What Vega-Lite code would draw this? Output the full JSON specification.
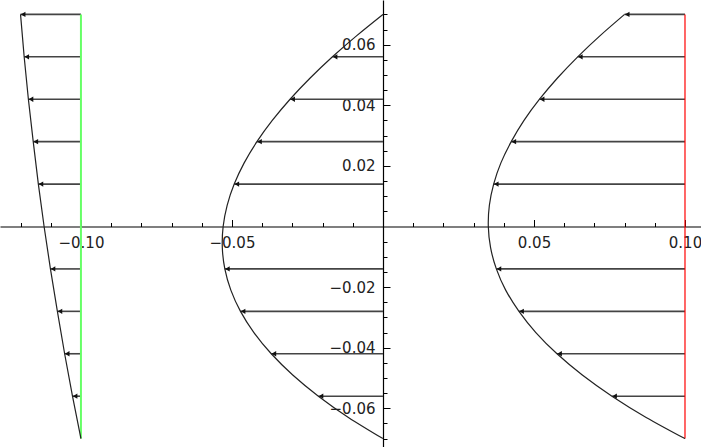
{
  "$schema": "https://vega.github.io/schema/vega-lite/v6.json",
  "width": 701,
  "height": 447,
  "autosize": "none",
  "padding": 0,
  "background": "white",
  "config": {
    "view": {"stroke": null},
    "axis": {"grid": false, "labelFont": "DejaVu Sans", "labelFontSize": 15, "labelColor": "#222", "tickColor": "#000", "domainColor": "#000", "labelFlush": false, "labelOverlap": false, "labelBound": false, "title": null}
  },
  "datasets": {
    "edges": [
      {"c": "green", "x": -0.1, "y1": -0.07, "y2": 0.07},
      {"c": "red", "x": 0.1, "y1": -0.07, "y2": 0.07}
    ],
    "curves": [
      {"c": "L", "y": 0.07, "x": -0.12},
      {"c": "L", "y": 0.056, "x": -0.1188},
      {"c": "L", "y": 0.042, "x": -0.1174},
      {"c": "L", "y": 0.028, "x": -0.1158},
      {"c": "L", "y": 0.014, "x": -0.1141},
      {"c": "L", "y": 0, "x": -0.1122},
      {"c": "L", "y": -0.014, "x": -0.1101},
      {"c": "L", "y": -0.028, "x": -0.1078},
      {"c": "L", "y": -0.042, "x": -0.1054},
      {"c": "L", "y": -0.056, "x": -0.1028},
      {"c": "L", "y": -0.07, "x": -0.1},
      {"c": "M", "y": 0.07, "x": 0},
      {"c": "M", "y": 0.063, "x": -0.00867},
      {"c": "M", "y": 0.056, "x": -0.01672},
      {"c": "M", "y": 0.049, "x": -0.0241},
      {"c": "M", "y": 0.042, "x": -0.03076},
      {"c": "M", "y": 0.035, "x": -0.03665},
      {"c": "M", "y": 0.028, "x": -0.04173},
      {"c": "M", "y": 0.021, "x": -0.04595},
      {"c": "M", "y": 0.014, "x": -0.04925},
      {"c": "M", "y": 0.007, "x": -0.05159},
      {"c": "M", "y": 0, "x": -0.05292},
      {"c": "M", "y": -0.007, "x": -0.05319},
      {"c": "M", "y": -0.014, "x": -0.05236},
      {"c": "M", "y": -0.021, "x": -0.05037},
      {"c": "M", "y": -0.028, "x": -0.04717},
      {"c": "M", "y": -0.035, "x": -0.04273},
      {"c": "M", "y": -0.042, "x": -0.03698},
      {"c": "M", "y": -0.049, "x": -0.02988},
      {"c": "M", "y": -0.056, "x": -0.02138},
      {"c": "M", "y": -0.063, "x": -0.01144},
      {"c": "M", "y": -0.07, "x": 0},
      {"c": "R", "y": 0.07, "x": 0.08},
      {"c": "R", "y": 0.063, "x": 0.07191},
      {"c": "R", "y": 0.056, "x": 0.06448},
      {"c": "R", "y": 0.049, "x": 0.05778},
      {"c": "R", "y": 0.042, "x": 0.05184},
      {"c": "R", "y": 0.035, "x": 0.0467},
      {"c": "R", "y": 0.028, "x": 0.04247},
      {"c": "R", "y": 0.021, "x": 0.03905},
      {"c": "R", "y": 0.014, "x": 0.03665},
      {"c": "R", "y": 0.007, "x": 0.03523},
      {"c": "R", "y": 0, "x": 0.03488},
      {"c": "R", "y": -0.007, "x": 0.03563},
      {"c": "R", "y": -0.014, "x": 0.03754},
      {"c": "R", "y": -0.021, "x": 0.04063},
      {"c": "R", "y": -0.028, "x": 0.04503},
      {"c": "R", "y": -0.035, "x": 0.05062},
      {"c": "R", "y": -0.042, "x": 0.05762},
      {"c": "R", "y": -0.049, "x": 0.066},
      {"c": "R", "y": -0.056, "x": 0.07582},
      {"c": "R", "y": -0.063, "x": 0.08714},
      {"c": "R", "y": -0.07, "x": 0.1}
    ],
    "arrows": [
      {"p": "L", "y": 0.07, "x0": -0.1, "x1": -0.12},
      {"p": "L", "y": 0.056, "x0": -0.1, "x1": -0.1188},
      {"p": "L", "y": 0.042, "x0": -0.1, "x1": -0.1174},
      {"p": "L", "y": 0.028, "x0": -0.1, "x1": -0.1158},
      {"p": "L", "y": 0.014, "x0": -0.1, "x1": -0.1141},
      {"p": "L", "y": -0.014, "x0": -0.1, "x1": -0.1101},
      {"p": "L", "y": -0.028, "x0": -0.1, "x1": -0.1078},
      {"p": "L", "y": -0.042, "x0": -0.1, "x1": -0.1054},
      {"p": "L", "y": -0.056, "x0": -0.1, "x1": -0.1028},
      {"p": "M", "y": 0.056, "x0": 0, "x1": -0.01672},
      {"p": "M", "y": 0.042, "x0": 0, "x1": -0.03076},
      {"p": "M", "y": 0.028, "x0": 0, "x1": -0.04173},
      {"p": "M", "y": 0.014, "x0": 0, "x1": -0.04925},
      {"p": "M", "y": -0.014, "x0": 0, "x1": -0.05236},
      {"p": "M", "y": -0.028, "x0": 0, "x1": -0.04717},
      {"p": "M", "y": -0.042, "x0": 0, "x1": -0.03698},
      {"p": "M", "y": -0.056, "x0": 0, "x1": -0.02138},
      {"p": "R", "y": 0.07, "x0": 0.1, "x1": 0.08},
      {"p": "R", "y": 0.056, "x0": 0.1, "x1": 0.06448},
      {"p": "R", "y": 0.042, "x0": 0.1, "x1": 0.05184},
      {"p": "R", "y": 0.028, "x0": 0.1, "x1": 0.04247},
      {"p": "R", "y": 0.014, "x0": 0.1, "x1": 0.03665},
      {"p": "R", "y": -0.014, "x0": 0.1, "x1": 0.03754},
      {"p": "R", "y": -0.028, "x0": 0.1, "x1": 0.04503},
      {"p": "R", "y": -0.042, "x0": 0.1, "x1": 0.05762},
      {"p": "R", "y": -0.056, "x0": 0.1, "x1": 0.07582}
    ]
  },
  "layer": [
    {
      "data": {"name": "arrows"},
      "mark": {"type": "rule", "color": "#444", "strokeWidth": 1.6},
      "encoding": {
        "x": {"field": "x0", "type": "quantitative", "scale": {"domain": [-0.1268, 0.1053], "nice": false, "zero": false},
          "axis": {"orient": "bottom", "offset": -220.5, "values": [-0.1, -0.05, 0.05, 0.1], "format": ".2f", "tickSize": -7, "labelPadding": 16, "labelBaseline": "top", "domain": true, "domainWidth": 1.2}},
        "x2": {"field": "x1"},
        "y": {"field": "y", "type": "quantitative", "scale": {"domain": [-0.07277, 0.07475], "nice": false, "zero": false},
          "axis": {"orient": "left", "offset": -383, "values": [-0.06, -0.04, -0.02, 0.02, 0.04, 0.06], "format": ".2f", "tickSize": -7, "labelPadding": 15, "domain": true, "domainWidth": 1.2}}
      }
    },
    {
      "data": {"name": "arrows"},
      "mark": {"type": "point", "shape": "triangle-left", "filled": true, "size": 28, "color": "#111", "opacity": 1, "xOffset": 2.6},
      "encoding": {
        "x": {"field": "x1", "type": "quantitative", "scale": {"domain": [-0.1268, 0.1053], "nice": false, "zero": false},
          "axis": {"orient": "bottom", "offset": -220.5, "values": [-0.12, -0.11, -0.09, -0.08, -0.07, -0.06, -0.04, -0.03, -0.02, -0.01, 0.01, 0.02, 0.03, 0.04, 0.06, 0.07, 0.08, 0.09], "labels": false, "tickSize": -4, "domain": false}},
        "y": {"field": "y", "type": "quantitative", "scale": {"domain": [-0.07277, 0.07475], "nice": false, "zero": false},
          "axis": {"orient": "left", "offset": -383, "values": [-0.07, -0.065, -0.055, -0.05, -0.045, -0.035, -0.03, -0.025, -0.015, -0.01, -0.005, 0.005, 0.01, 0.015, 0.025, 0.03, 0.035, 0.045, 0.05, 0.055, 0.065, 0.07], "labels": false, "tickSize": -4, "domain": false}}
      }
    },
    {
      "data": {"name": "edges"},
      "transform": [{"filter": "datum.c === 'green'"}],
      "mark": {"type": "rule", "color": "#66ff66", "strokeWidth": 2},
      "encoding": {
        "x": {"field": "x", "type": "quantitative", "scale": {"domain": [-0.1268, 0.1053], "nice": false, "zero": false}, "axis": null},
        "y": {"field": "y1", "type": "quantitative", "scale": {"domain": [-0.07277, 0.07475], "nice": false, "zero": false}, "axis": null},
        "y2": {"field": "y2"}
      }
    },
    {
      "data": {"name": "edges"},
      "transform": [{"filter": "datum.c === 'red'"}],
      "mark": {"type": "rule", "color": "#ff0000", "strokeWidth": 1.2},
      "encoding": {
        "x": {"field": "x", "type": "quantitative", "scale": {"domain": [-0.1268, 0.1053], "nice": false, "zero": false}, "axis": null},
        "y": {"field": "y1", "type": "quantitative", "scale": {"domain": [-0.07277, 0.07475], "nice": false, "zero": false}, "axis": null},
        "y2": {"field": "y2"}
      }
    },
    {
      "data": {"name": "curves"},
      "mark": {"type": "line", "color": "#222", "strokeWidth": 1.2, "interpolate": "natural"},
      "encoding": {
        "x": {"field": "x", "type": "quantitative", "scale": {"domain": [-0.1268, 0.1053], "nice": false, "zero": false}, "axis": null},
        "y": {"field": "y", "type": "quantitative", "scale": {"domain": [-0.07277, 0.07475], "nice": false, "zero": false}, "axis": null},
        "detail": {"field": "c", "type": "nominal"},
        "order": {"field": "y", "type": "quantitative"}
      }
    }
  ],
  "resolve": {"axis": {"x": "independent", "y": "independent"}}
}
